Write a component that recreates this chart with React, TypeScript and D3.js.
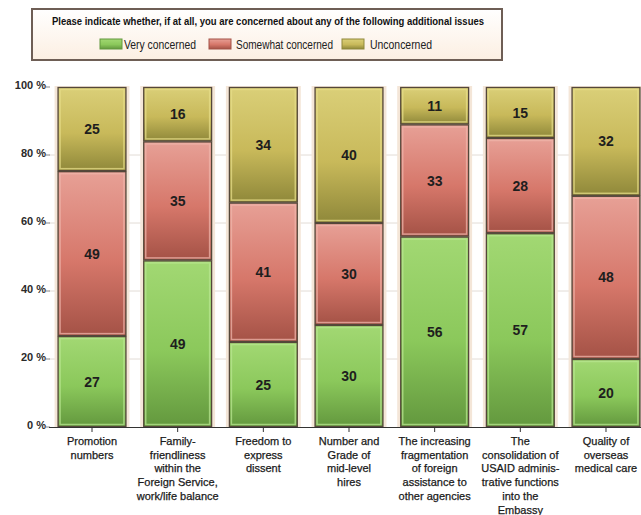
import React from "react";
import * as d3 from "d3";

const categories = [
  "Promotion numbers",
  "Family-friendliness within the Foreign Service, work/life balance",
  "Freedom to express dissent",
  "Number and Grade of mid-level hires",
  "The increasing fragmentation of foreign assistance to other agencies",
  "The consolidation of USAID administrative functions into the Embassy",
  "Quality of overseas medical care",
];
const categoryLines = [
  ["Promotion", "numbers"],
  ["Family-", "friendliness", "within the", "Foreign Service,", "work/life balance"],
  ["Freedom to", "express", "dissent"],
  ["Number and", "Grade of", "mid-level", "hires"],
  ["The increasing", "fragmentation", "of foreign", "assistance to", "other agencies"],
  ["The", "consolidation of", "USAID adminis-", "trative functions", "into the", "Embassy"],
  ["Quality of", "overseas", "medical care"],
];
const seriesNames = ["Very concerned", "Somewhat concerned", "Unconcerned"];
const veryConcerned = [27, 49, 25, 30, 56, 57, 20];
const somewhatConcerned = [49, 35, 41, 30, 33, 28, 48];
const unconcerned = [25, 16, 34, 40, 11, 15, 32];
const yTicks = [0, 0.2, 0.4, 0.6, 0.8, 1];
const legendTitle =
  "Please indicate whether, if at all, you are concerned about any of the following additional issues";

const palettes = [
  { top: "#a2d873", mid: "#8bc85b", bot: "#63983e", edge: "#b8e690" },
  { top: "#e7a096", mid: "#d6776a", bot: "#a45246", edge: "#efb4aa" },
  { top: "#dacf78", mid: "#c8b95a", bot: "#8f883a", edge: "#e6dc88" },
];
const FONT = "'Liberation Sans', Arial, sans-serif";
const NARROW = "'Liberation Sans Narrow', 'Arial Narrow', 'Liberation Sans', Arial, sans-serif";

export default function App() {
  const rows = categories.map((c, i) => ({
    cat: c,
    s0: veryConcerned[i],
    s1: somewhatConcerned[i],
    s2: unconcerned[i],
  }));
  const stack = d3
    .stack<any>()
    .keys(["s0", "s1", "s2"])
    .offset(d3.stackOffsetExpand);
  const layers = stack(rows);

  const x = d3
    .scaleBand<string>()
    .domain(categories)
    .range([49, 649])
    .paddingInner(0.196)
    .paddingOuter(0.1);
  const y = d3.scaleLinear().domain([0, 1]).range([427, 87]);
  const bw = x.bandwidth();
  const values = [veryConcerned, somewhatConcerned, unconcerned];

  return (
    <svg
      width={641}
      height={515}
      style={{ position: "absolute", left: 0, top: 0, background: "#fff" }}
    >
      <defs>
        {palettes.map((p, i) => (
          <linearGradient key={i} id={`g${i}`} x1="0" y1="0" x2="0" y2="1">
            <stop offset="0" stopColor={p.top} />
            <stop offset="0.55" stopColor={p.mid} />
            <stop offset="1" stopColor={p.bot} />
          </linearGradient>
        ))}
        <linearGradient id="legbg" x1="0" y1="0" x2="0" y2="1">
          <stop offset="0" stopColor="#ffffff" />
          <stop offset="1" stopColor="#fcefe2" />
        </linearGradient>
      </defs>

      {/* gridlines */}
      {yTicks.slice(1, 5).map((t) => (
        <line
          key={t}
          x1={49}
          x2={641}
          y1={y(t)}
          y2={y(t)}
          stroke="#e2dcd6"
          strokeWidth={1}
        />
      ))}

      {/* bar halos */}
      {categories.map((c) => (
        <rect
          key={c}
          x={(x(c) as number) - 3}
          y={y(1) - 1}
          width={bw + 6}
          height={y(0) - y(1) + 1}
          fill="#f4e6d8"
        />
      ))}

      {/* bars */}
      {layers.map((layer, li) =>
        layer.map((d, i) => {
          const x0 = x(categories[i]) as number;
          const y0 = y(d[1]);
          const h = y(d[0]) - y(d[1]);
          return (
            <g key={`${li}-${i}`}>
              <rect
                x={x0 + 0.5}
                y={y0 + 0.5}
                width={bw - 1}
                height={h - 1}
                fill={`url(#g${li})`}
                stroke="#54473a"
                strokeWidth={1.3}
              />
              <rect
                x={x0 + 2.5}
                y={y0 + 2.5}
                width={bw - 5}
                height={Math.max(0, h - 5)}
                fill="none"
                stroke={palettes[li].edge}
                strokeOpacity={0.75}
                strokeWidth={1.5}
              />
              <text
                x={x0 + bw / 2}
                y={y0 + h / 2}
                dy="0.36em"
                textAnchor="middle"
                fontFamily={FONT}
                fontWeight="bold"
                fontSize={14}
                fill="#1e1e1e"
              >
                {values[li][i]}
              </text>
            </g>
          );
        })
      )}

      {/* y axis */}
      {yTicks.map((t) => (
        <g key={t}>
          <line x1={46} x2={50} y1={y(t)} y2={y(t)} stroke="#888" />
          <text
            x={46}
            y={y(t) - 2}
            dy="0.35em"
            textAnchor="end"
            fontFamily={FONT}
            fontWeight="bold"
            fontSize={11}
            fill="#2a2a2a"
          >
            {`${Math.round(t * 100)} %`}
          </text>
        </g>
      ))}

      {/* x axis */}
      <line x1={49} x2={641} y1={427.5} y2={427.5} stroke="#333" strokeWidth={1.2} />
      {categories.map((c, i) => {
        const cx = (x(c) as number) + bw / 2;
        return (
          <g key={c}>
            <line x1={cx} x2={cx} y1={427} y2={432} stroke="#333" />
            {categoryLines[i].map((ln, j) => (
              <text
                key={j}
                x={cx}
                y={445 + j * 13.7}
                textAnchor="middle"
                fontFamily={FONT}
                fontSize={11}
                fill="#1a1a1a"
                stroke="#1a1a1a"
                strokeWidth={0.25}
              >
                {ln}
              </text>
            ))}
          </g>
        );
      })}

      {/* legend */}
      <rect
        x={32}
        y={9}
        width={470}
        height={51}
        fill="url(#legbg)"
        stroke="#6e5e55"
        strokeWidth={2}
      />
      <text
        x={268}
        y={25}
        textAnchor="middle"
        fontFamily={NARROW}
        fontWeight="bold"
        fontSize={11}
        textLength={432}
        lengthAdjust="spacingAndGlyphs"
        fill="#111"
      >
        {legendTitle}
      </text>
      {[
        { sx: 100, tx: 124, tw: 72 },
        { sx: 209, tx: 236, tw: 97 },
        { sx: 342, tx: 370, tw: 62 },
      ].map((p, i) => (
        <g key={i}>
          <rect
            x={p.sx}
            y={39}
            width={22}
            height={10}
            fill={`url(#g${i})`}
            stroke={palettes[i].bot}
            strokeWidth={1}
          />
          <text
            x={p.tx}
            y={48.5}
            fontFamily={NARROW}
            fontSize={13}
            textLength={p.tw}
            lengthAdjust="spacingAndGlyphs"
            fill="#222"
          >
            {seriesNames[i]}
          </text>
        </g>
      ))}
    </svg>
  );
}
